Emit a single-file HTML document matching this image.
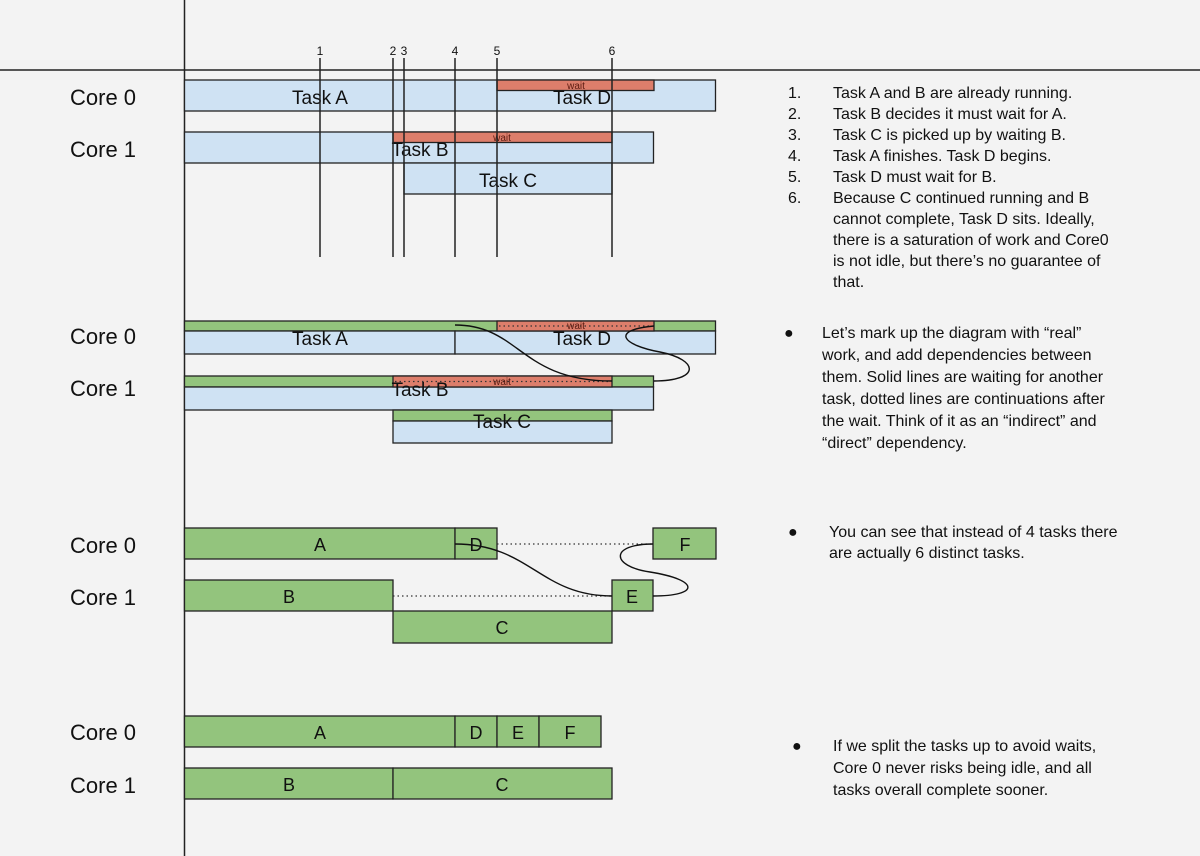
<!DOCTYPE html>
<html><head><meta charset="utf-8"><style>
html,body{margin:0;padding:0;background:#f3f3f3;}
svg{display:block;font-family:"Liberation Sans",Arial,sans-serif;}
</style></head><body>
<svg width="1200" height="856" viewBox="0 0 1200 856" xmlns="http://www.w3.org/2000/svg">
<rect width="1200" height="856" fill="#f3f3f3"/>
<line x1="184.5" y1="0" x2="184.5" y2="856" stroke="#222" stroke-width="1.5"/>
<line x1="0" y1="70" x2="1200" y2="70" stroke="#222" stroke-width="1.5"/>
<g font-size="22" fill="#111">
<text x="70" y="105">Core 0</text><text x="70" y="157">Core 1</text>
<text x="70" y="344">Core 0</text><text x="70" y="396">Core 1</text>
<text x="70" y="553">Core 0</text><text x="70" y="605">Core 1</text>
<text x="70" y="740">Core 0</text><text x="70" y="793">Core 1</text>
</g>
<g stroke="#222" stroke-width="1.3">
<!-- section 1 -->
<rect x="184.5" y="80" width="531" height="31" fill="#cfe2f3"/>
<rect x="497" y="80" width="157" height="10.5" fill="#dd7e6b"/>
<rect x="184.5" y="132" width="469" height="31" fill="#cfe2f3"/>
<rect x="393" y="132" width="219" height="10.5" fill="#dd7e6b"/>
<rect x="404" y="163" width="208" height="31" fill="#cfe2f3"/>
</g>
<g font-size="19" fill="#111" text-anchor="middle">
<text x="320" y="104">Task A</text><text x="582" y="104">Task D</text>
<text x="420" y="156">Task B</text><text x="508" y="187">Task C</text>
</g>
<g font-size="10" fill="#5a1a10" text-anchor="middle">
<text x="576" y="89">wait</text><text x="502" y="141">wait</text>
</g>
<g stroke="#222" stroke-width="1.5">
<line x1="320" y1="58" x2="320" y2="257"/><line x1="393" y1="58" x2="393" y2="257"/>
<line x1="404" y1="58" x2="404" y2="257"/><line x1="455" y1="58" x2="455" y2="257"/>
<line x1="497" y1="58" x2="497" y2="257"/><line x1="612" y1="58" x2="612" y2="257"/>
</g>
<g font-size="12" fill="#111" text-anchor="middle">
<text x="320" y="55">1</text><text x="393" y="55">2</text><text x="404" y="55">3</text>
<text x="455" y="55">4</text><text x="497" y="55">5</text><text x="612" y="55">6</text>
</g>
<!-- section 2 -->
<g stroke="#222" stroke-width="1.3">
<rect x="184.5" y="321" width="531" height="10" fill="#93c47d"/>
<rect x="184.5" y="331" width="270.5" height="23" fill="#cfe2f3"/>
<rect x="455" y="331" width="260.5" height="23" fill="#cfe2f3"/>
<rect x="497" y="321" width="157" height="10" fill="#dd7e6b"/>
<rect x="184.5" y="376" width="469" height="11" fill="#93c47d"/>
<rect x="184.5" y="387" width="469" height="23" fill="#cfe2f3"/>
<rect x="393" y="376" width="219" height="11" fill="#dd7e6b"/>
<rect x="393" y="410" width="219" height="11" fill="#93c47d"/>
<rect x="393" y="421" width="219" height="22" fill="#cfe2f3"/>
</g>
<g stroke="#333" stroke-width="1.2" stroke-dasharray="1.5 3">
<line x1="499" y1="326" x2="652" y2="326"/><line x1="395" y1="381.5" x2="610" y2="381.5"/>
</g>
<g font-size="10" fill="#5a1a10" text-anchor="middle">
<text x="576" y="329">wait</text><text x="502" y="385">wait</text>
</g>
<g font-size="19" fill="#111" text-anchor="middle">
<text x="320" y="345">Task A</text><text x="582" y="345">Task D</text>
<text x="420" y="396">Task B</text><text x="502" y="428">Task C</text>
</g>
<g fill="none" stroke="#111" stroke-width="1.4">
<path d="M455 325 C520 325 520 381 612 381"/>
<path d="M654 326 C610 330 622 345 660 352 C700 360 700 381 654 381"/>
</g>
<!-- section 3 -->
<g stroke="#222" stroke-width="1.3" fill="#93c47d">
<rect x="184.5" y="528" width="270.5" height="31"/>
<rect x="455" y="528" width="42" height="31"/>
<rect x="653" y="528" width="63" height="31"/>
<rect x="184.5" y="580" width="208.5" height="31"/>
<rect x="612" y="580" width="41" height="31"/>
<rect x="393" y="611" width="219" height="32"/>
</g>
<g stroke="#333" stroke-width="1.2" stroke-dasharray="1.5 3">
<line x1="497" y1="544" x2="653" y2="544"/><line x1="393" y1="596" x2="612" y2="596"/>
</g>
<g fill="none" stroke="#111" stroke-width="1.4">
<path d="M455 544 C530 544 540 596 612 596"/>
<path d="M653 544 C610 544 610 566 650 572 C700 580 700 596 653 596"/>
</g>
<g font-size="18" fill="#111" text-anchor="middle">
<text x="320" y="551">A</text><text x="476" y="551">D</text><text x="685" y="551">F</text>
<text x="289" y="603">B</text><text x="632" y="603">E</text><text x="502" y="634">C</text>
</g>
<!-- section 4 -->
<g stroke="#222" stroke-width="1.3" fill="#93c47d">
<rect x="184.5" y="716" width="270.5" height="31"/>
<rect x="455" y="716" width="42" height="31"/>
<rect x="497" y="716" width="42" height="31"/>
<rect x="539" y="716" width="62" height="31"/>
<rect x="184.5" y="768" width="208.5" height="31"/>
<rect x="393" y="768" width="219" height="31"/>
</g>
<g font-size="18" fill="#111" text-anchor="middle">
<text x="320" y="739">A</text><text x="476" y="739">D</text><text x="518" y="739">E</text><text x="570" y="739">F</text>
<text x="289" y="791">B</text><text x="502" y="791">C</text>
</g>
<!-- text -->
<g font-size="16" fill="#111">
<text x="788" y="98">1.</text><text x="833" y="98">Task A and B are already running.</text>
<text x="788" y="119">2.</text><text x="833" y="119">Task B decides it must wait for A.</text>
<text x="788" y="140">3.</text><text x="833" y="140">Task C is picked up by waiting B.</text>
<text x="788" y="161">4.</text><text x="833" y="161">Task A finishes. Task D begins.</text>
<text x="788" y="182">5.</text><text x="833" y="182">Task D must wait for B.</text>
<text x="788" y="203">6.</text><text x="833" y="203">Because C continued running and B</text>
<text x="833" y="224">cannot complete, Task D sits. Ideally,</text>
<text x="833" y="245">there is a saturation of work and Core0</text>
<text x="833" y="266">is not idle, but there’s no guarantee of</text>
<text x="833" y="287">that.</text>

<text x="784" y="338">●</text>
<text x="822" y="338">Let’s mark up the diagram with “real”</text>
<text x="822" y="360">work, and add dependencies between</text>
<text x="822" y="382">them. Solid lines are waiting for another</text>
<text x="822" y="404">task, dotted lines are continuations after</text>
<text x="822" y="426">the wait. Think of it as an “indirect” and</text>
<text x="822" y="448">“direct” dependency.</text>

<text x="788" y="537">●</text>
<text x="829" y="537">You can see that instead of 4 tasks there</text>
<text x="829" y="558">are actually 6 distinct tasks.</text>

<text x="792" y="751">●</text>
<text x="833" y="751">If we split the tasks up to avoid waits,</text>
<text x="833" y="773">Core 0 never risks being idle, and all</text>
<text x="833" y="795">tasks overall complete sooner.</text>
</g>
</svg>
</body></html>
